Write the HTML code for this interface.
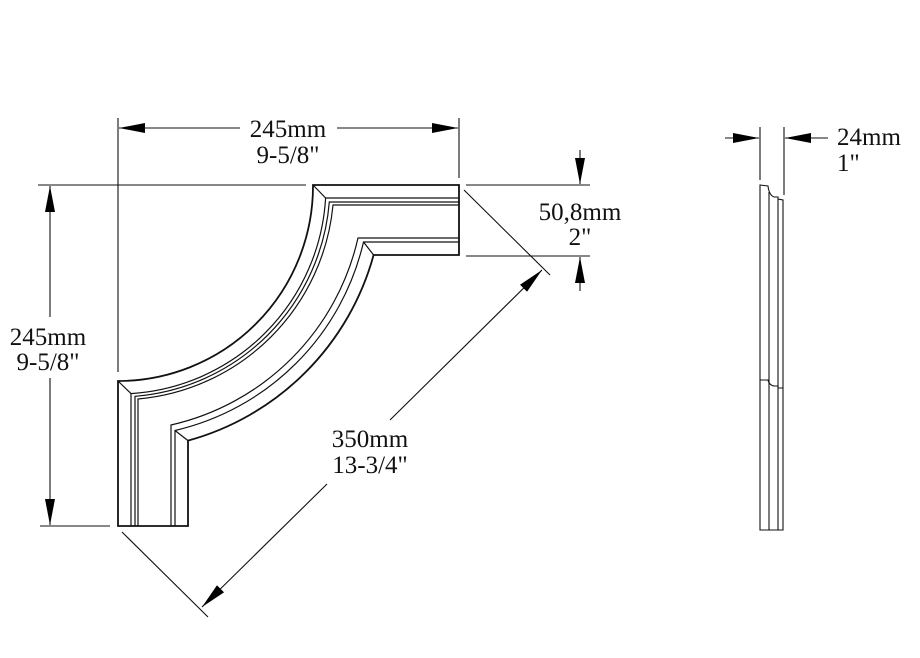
<!DOCTYPE html>
<html><head><meta charset="utf-8"><style>
html,body{margin:0;padding:0;background:#fff;}
svg{display:block;}
text{font-family:"Liberation Serif",serif;font-size:25px;fill:#111;}
</style></head><body>
<svg width="920" height="658" viewBox="0 0 920 658" xmlns="http://www.w3.org/2000/svg">
<defs>
<marker id="a" viewBox="0 0 26 10" refX="26" refY="5" markerWidth="26" markerHeight="10" markerUnits="userSpaceOnUse" orient="auto"><path d="M0,0 L26,5 L0,10 Z" fill="#000"/></marker>
</defs>
<g stroke="#111" fill="none">
<path stroke-width="1.8" d="M313,185 L459,185 L459,255 L373.6,255 A265,265 0 0 1 188,440.6 L188,526 L118,526 L118,381 A195,195 0 0 0 313,185 Z"/>
<g stroke-width="1.2">
<path d="M131,526 L131,393.6 A208,208 0 0 0 325.6,198 L459,198"/>
<path d="M135,526 L135,396.3 A212,212 0 0 0 329.3,202 L459,202"/>
<path d="M138,526 L138,399 A215,215 0 0 0 333,205 L459,205"/>
<path d="M171,526 L171,425 A248,248 0 0 0 358,238 L459,238"/>
<path d="M175,526 L175,430.5 A252,252 0 0 0 363.5,242 L459,242"/>
<path d="M313,185 L325.6,198"/>
<path d="M118,381 L131,393.6"/>
<path d="M363.5,242 L373.6,255"/>
<path d="M175,430.5 L188,440.6"/>
</g>
<g stroke-width="1.1">
<line x1="118" y1="118" x2="118" y2="372"/>
<line x1="459" y1="118" x2="459" y2="178"/>
<line x1="38" y1="185" x2="306" y2="185"/>
<line x1="40" y1="526" x2="110" y2="526"/>
<line x1="240" y1="128" x2="119" y2="128" marker-end="url(#a)"/>
<line x1="337" y1="128" x2="458" y2="128" marker-end="url(#a)"/>
<line x1="50" y1="317" x2="50" y2="186" marker-end="url(#a)"/>
<line x1="50" y1="378" x2="50" y2="525" marker-end="url(#a)"/>
<line x1="466" y1="185" x2="590" y2="185"/>
<line x1="466" y1="256" x2="590" y2="256"/>
<line x1="580" y1="150" x2="580" y2="184" marker-end="url(#a)"/>
<line x1="580" y1="291" x2="580" y2="257" marker-end="url(#a)"/>
<line x1="464" y1="190" x2="550" y2="275"/>
<line x1="122" y1="532" x2="208" y2="617"/>
<line x1="390" y1="420" x2="542" y2="270" marker-end="url(#a)"/>
<line x1="327" y1="484" x2="202" y2="607" marker-end="url(#a)"/>
<line x1="760" y1="127" x2="760" y2="180"/>
<line x1="784" y1="127" x2="784" y2="195"/>
<line x1="725" y1="138" x2="759" y2="138" marker-end="url(#a)"/>
<line x1="828" y1="138" x2="785" y2="138" marker-end="url(#a)"/>
</g>
<g stroke-width="1.1">
<path d="M760,530 L760,185 L768,186 Q769,195 774,197 L778,197 L778,199 L783,200 L783,530 Z"/>
<line x1="769" y1="192" x2="769" y2="530"/>
<line x1="778" y1="199" x2="778" y2="530"/>
<path d="M760,380 L768,380 Q769,385 774,386 L778,386 L778,388 L783,388"/>
</g>
</g>
<text x="288" y="137" text-anchor="middle">245mm</text>
<text x="288" y="163" text-anchor="middle">9-5/8"</text>
<text x="48" y="345" text-anchor="middle">245mm</text>
<text x="48" y="370" text-anchor="middle">9-5/8"</text>
<text x="580" y="220" text-anchor="middle">50,8mm</text>
<text x="580" y="245" text-anchor="middle">2"</text>
<text x="370" y="447" text-anchor="middle">350mm</text>
<text x="370" y="473" text-anchor="middle">13-3/4"</text>
<text x="837" y="145">24mm</text>
<text x="837" y="171">1"</text>
</svg>
</body></html>
